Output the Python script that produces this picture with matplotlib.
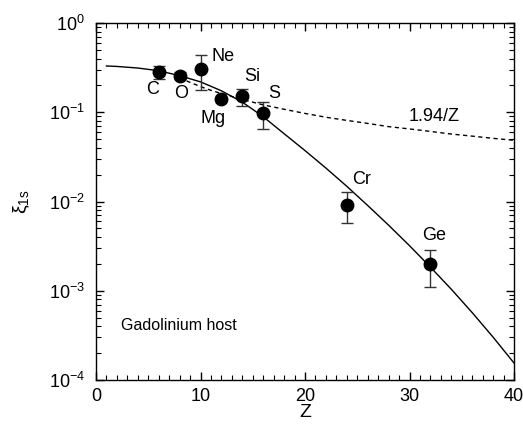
import numpy as np
import matplotlib
matplotlib.use("Agg")
import matplotlib.pyplot as plt
from matplotlib.ticker import MultipleLocator, LogLocator, NullFormatter

plt.rcParams['font.family'] = ['Liberation Sans', 'DejaVu Sans']
plt.rcParams['mathtext.fontset'] = 'custom'
plt.rcParams['mathtext.rm'] = 'Liberation Sans'
plt.rcParams['mathtext.it'] = 'Liberation Sans:italic'
plt.rcParams['mathtext.default'] = 'regular'

# measured points
elements = ["C", "O", "Ne", "Mg", "Si", "S", "Cr", "Ge"]
z_data = [6, 8, 10, 12, 14, 16, 24, 32]
xi_data = [0.280, 0.258, 0.303, 0.141, 0.153, 0.0970, 0.0091, 0.00197]
xi_hi = [0.333, 0.285, 0.438, 0.150, 0.181, 0.129, 0.0127, 0.00286]
xi_lo = [0.234, 0.234, 0.178, 0.133, 0.118, 0.0644, 0.0057, 0.00109]

# solid theory curve
z_curve = [1, 2, 4, 6, 8, 10, 12, 14, 16, 18, 20, 22, 24, 26, 28, 30, 32, 34, 36, 38, 40]
xi_curve = [0.330, 0.326, 0.313, 0.292, 0.257, 0.219, 0.174, 0.130, 0.0891, 0.0575,
            0.0372, 0.0237, 0.0148, 0.00902, 0.00543, 0.00320, 0.00184, 0.00104,
            0.000569, 0.000302, 0.000155]

# dashed 1.94/Z curve
z_dash = [8, 9, 10, 11, 12, 14, 16, 18, 20, 22, 24, 26, 28, 30, 32, 34, 36, 38, 40]
xi_dash = [0.243, 0.216, 0.194, 0.176, 0.162, 0.139, 0.121, 0.108, 0.097, 0.088,
           0.081, 0.075, 0.069, 0.065, 0.061, 0.057, 0.054, 0.051, 0.0485]

# label positions (Z, xi)
lab_z = [5.4, 8.1, 12.2, 11.2, 15.0, 17.1, 25.4, 32.4]
lab_y = [0.178, 0.163, 0.419, 0.0855, 0.251, 0.163, 0.0177, 0.00411]

fig = plt.figure(figsize=(5.23, 4.30), dpi=100)
ax = fig.add_axes([96/523, 1-380/430, 418/523, 357/430])

ax.plot(z_curve, xi_curve, color='black', lw=1.0)
ax.plot(z_dash, xi_dash, color='black', lw=1.0, ls=(0, (3, 2.5)))

err = [np.array(xi_data) - np.array(xi_lo), np.array(xi_hi) - np.array(xi_data)]
ax.errorbar(z_data, xi_data, yerr=err, fmt='o', color='black', ms=9,
            ecolor='#333333', elinewidth=1.0, capsize=4, capthick=1.0)

for name, zx, zy in zip(elements, lab_z, lab_y):
    ax.text(zx, zy, name, fontsize=13, ha='center', va='center')

ax.text(32.4, 0.0891, "1.94/Z", fontsize=13, ha='center', va='center')
ax.text(7.9, 4.03e-4, "Gadolinium host", fontsize=11.5, ha='center', va='center')

ax.set_yscale('log')
ax.set_xlim(0, 40)
ax.set_ylim(1e-4, 1)
ax.xaxis.set_major_locator(MultipleLocator(10))
ax.xaxis.set_minor_locator(MultipleLocator(1))
ax.yaxis.set_major_locator(LogLocator(base=10, numticks=10))
ax.yaxis.set_minor_locator(LogLocator(base=10, subs=np.arange(2, 10), numticks=20))
ax.yaxis.set_minor_formatter(NullFormatter())

ax.tick_params(which='both', direction='in', top=True, right=True, labelsize=13)
ax.tick_params(which='major', length=6, width=1)
ax.tick_params(which='minor', length=3.5, width=0.8)
ax.tick_params(axis='x', pad=6)
ax.tick_params(axis='y', pad=8)
for s in ax.spines.values():
    s.set_linewidth(1.0)

ax.set_xlabel("Z", fontsize=14, labelpad=-1)
ax.set_ylabel(r"$\xi_{1s}$", fontsize=14, labelpad=12)

fig.savefig("out.png", dpi=100)
